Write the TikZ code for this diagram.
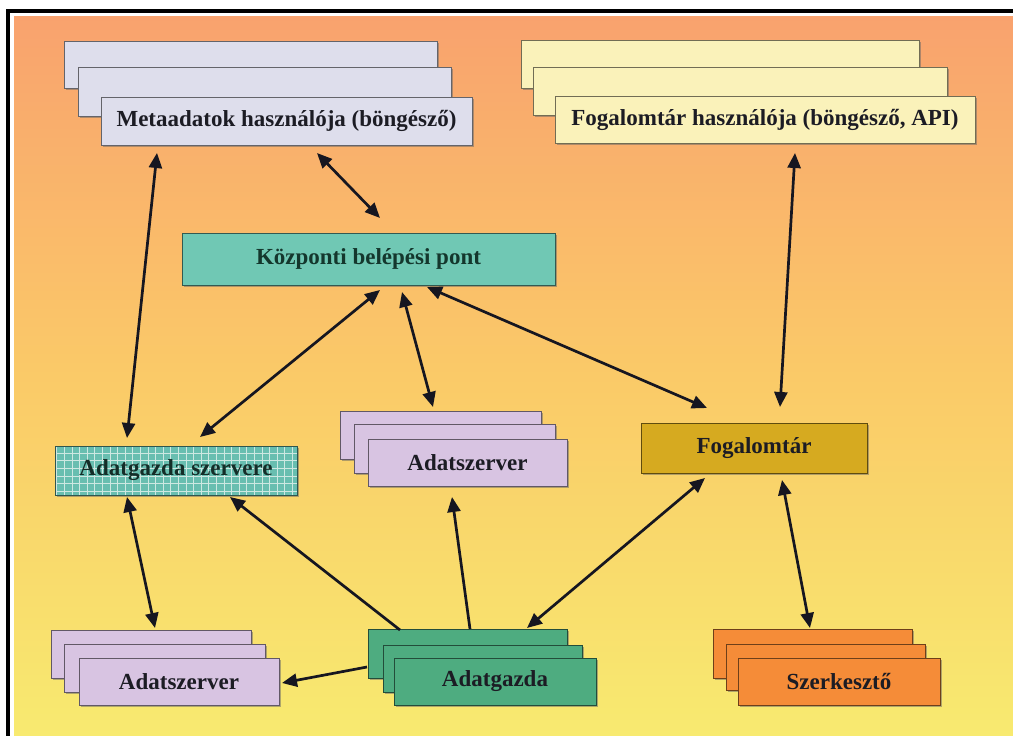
\documentclass[tikz,border=0pt]{standalone}
\usepackage{fontspec}
\setmainfont{Liberation Serif}
\usetikzlibrary{arrows.meta,calc,shadows}
\definecolor{bgtop}{RGB}{249,162,110}
\definecolor{bgmid}{RGB}{250,202,104}
\definecolor{bgbot}{RGB}{248,234,112}
\definecolor{metac}{RGB}{222,222,236}
\definecolor{fuserc}{RGB}{250,242,186}
\definecolor{kozpc}{RGB}{112,200,180}
\definecolor{aszc}{RGB}{104,190,176}
\definecolor{gridc}{RGB}{205,232,226}
\definecolor{dsc}{RGB}{216,196,226}
\definecolor{fogc}{RGB}{214,170,32}
\definecolor{agc}{RGB}{78,172,128}
\definecolor{szc}{RGB}{245,140,56}
\definecolor{arr}{RGB}{22,22,32}
\definecolor{txt}{RGB}{28,28,36}
\newcommand\boxfont{\bfseries\fontsize{23}{27}\selectfont}
\newcommand\bx[7]{\node[box=#6, minimum width={#4-#2}, minimum height={#5-#3}] (#1) at ({(#2+#4)/2},{(#3+#5)/2}) {#7};}
\begin{document}
\begin{tikzpicture}[x=1pt,y=-1pt,
  every node/.style={inner sep=0pt, outer sep=0pt, font=\boxfont, text=txt},
  box/.style={rectangle, fill=#1, draw=#1!45!black, line width=0.8pt,
    drop shadow={shadow xshift=1.6pt, shadow yshift=-1.6pt, fill=black!60, opacity=0.5}},
  conn/.style={draw=arr, line width=2.7pt, {Triangle[length=15pt,width=13pt]}-{Triangle[length=15pt,width=13pt]}},
  one/.style={draw=arr, line width=2.7pt, -{Triangle[length=15pt,width=13pt]}}]
\useasboundingbox (0,0) rectangle (1013,736);
% frame and background
\fill[white] (0,0) rectangle (1013,736);
\fill[black] (6,9) rectangle (1013,13);
\fill[black] (6,9) rectangle (10,736);
\shade[top color=bgtop, bottom color=bgbot, middle color=bgmid] (14,16) rectangle (1013,736);
% boxes
\bx{meta3}{64}{41}{437}{88}{metac}{}
\bx{meta2}{78}{67}{451}{116}{metac}{}
\bx{meta}{101}{97}{472}{145}{metac}{Metaadatok használója (böngésző)}
\bx{fuser3}{521}{40}{919}{88}{fuserc}{}
\bx{fuser2}{533}{67}{947}{115}{fuserc}{}
\bx{fuser}{555}{96}{975}{143}{fuserc}{Fogalomtár használója (böngésző, API)}
\node[box=kozpc, minimum width=373, minimum height=52, text={rgb,255:red,20;green,55;blue,45}] (kozp) at (368.5,259) {Központi belépési pont};
\node[box=aszc, minimum width=242, minimum height=49,
  path picture={\draw[gridc, line width=0.6pt, xstep=7.6pt, ystep=7.6pt] (path picture bounding box.south west) grid (path picture bounding box.north east);},
  text={rgb,255:red,20;green,45;blue,40}] (aszerv) at (176,470.5) {Adatgazda szervere};
\bx{ds1c}{340}{411}{541}{459}{dsc}{}
\bx{ds1b}{354}{424}{555}{473}{dsc}{}
\bx{ds1}{368}{439}{567}{486}{dsc}{Adatszerver}
\bx{fogal}{641}{423}{867}{473}{fogc}{Fogalomtár}
\bx{ds2c}{51}{630}{251}{678}{dsc}{}
\bx{ds2b}{64}{644}{265}{692}{dsc}{}
\bx{ds2}{79}{658}{279}{705}{dsc}{Adatszerver}
\bx{agzc}{368}{629}{567}{678}{agc}{}
\bx{agzb}{383}{645}{582}{692}{agc}{}
\bx{agz}{394}{658}{596}{705}{agc}{Adatgazda}
\bx{szkc}{713}{629}{912}{678}{szc}{}
\bx{szkb}{726}{644}{925}{690}{szc}{}
\bx{szk}{738}{658}{940}{705}{szc}{Szerkesztő}
% connectors
\draw[conn] ($(meta.south west)+(56,8)$) -- ($(aszerv.north west)+(72,-8)$);
\draw[conn] ($(meta.south west)+(216,8)$) -- ($(kozp.north west)+(198,-15)$);
\draw[conn] ($(kozp.south west)+(198,5)$) -- ($(aszerv.north west)+(145,-9)$);
\draw[conn] ($(kozp.south west)+(220,7)$) -- ($(ds1c.north west)+(93,-4)$);
\draw[conn] ($(kozp.south west)+(245,2)$) -- ($(fogal.north west)+(66,-15)$);
\draw[conn] ($(fuser.south west)+(240,10)$) -- ($(fogal.north west)+(139,-16)$);
\draw[conn] ($(fogal.south west)+(141,7)$) -- ($(szkc.north west)+(97,-1)$);
\draw[conn] ($(fogal.south west)+(64,5)$) -- ($(agzc.north west)+(159,-1)$);
\draw[conn] ($(aszerv.south west)+(72,2)$) -- ($(ds2c.north west)+(104,-2)$);
\draw[one] ($(agzc.north west)+(32,1)$) -- ($(aszerv.south west)+(175,2)$);
\draw[one] ($(agzc.north west)+(102,0)$) -- ($(ds1.south west)+(84,11)$);
\draw[one] ($(agzc.north west)+(-1,38)$) -- ($(ds2.east)+(3,1.5)$);
\end{tikzpicture}
\end{document}
